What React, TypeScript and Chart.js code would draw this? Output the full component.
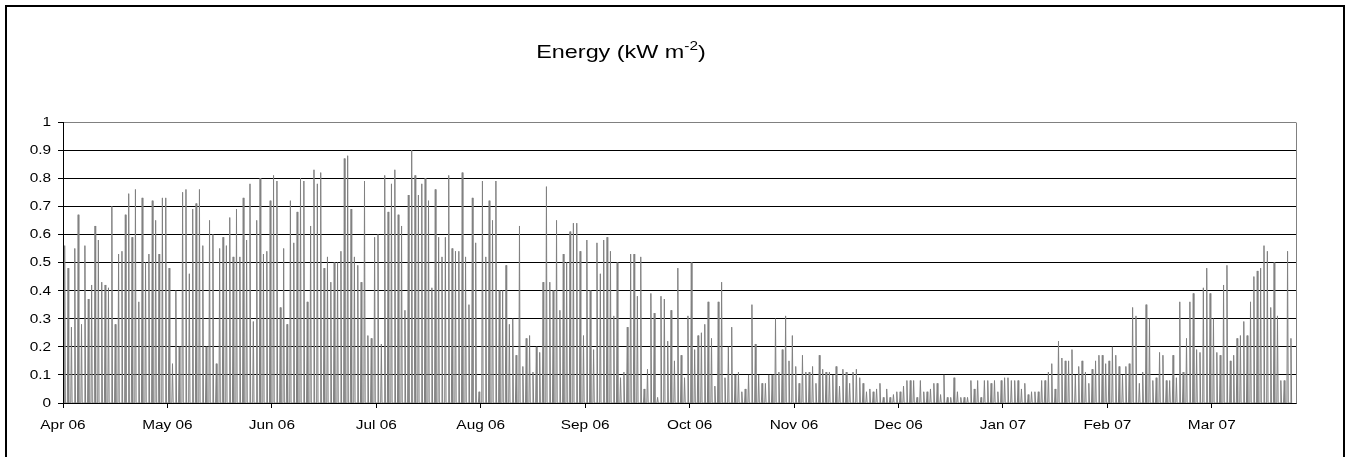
import React, { useEffect, useRef } from "react";
import { Chart, registerables } from "chart.js";

Chart.register(...registerables);

// Month tick labels (one tick every 31 days on the day axis)
const monthLabels = ["Apr 06", "May 06", "Jun 06", "Jul 06", "Aug 06", "Sep 06", "Oct 06", "Nov 06", "Dec 06", "Jan 07", "Feb 07", "Mar 07"];
const tickStepDays = 31;
const totalDays = 366;
const yTickValues = [0, 0.1, 0.2, 0.3, 0.4, 0.5, 0.6, 0.7, 0.8, 0.9, 1];

// Daily peak energy (kW m^-2), split in ~40-day blocks
const peaksAprMay = [0.56, 0.48, 0.27, 0.55, 0.67, 0.28, 0.56, 0.37, 0.42, 0.63, 0.58, 0.43, 0.42, 0.41, 0.70, 0.28, 0.53, 0.54, 0.67, 0.745, 0.59, 0.76, 0.36, 0.73, 0.50, 0.53, 0.72, 0.65, 0.53, 0.73, 0.73, 0.48, 0.14, 0.40, 0.20, 0.75, 0.76, 0.46, 0.69, 0.71, 0.76];
const peaksMayJun = [0.56, 0.20, 0.65, 0.60, 0.14, 0.55, 0.59, 0.56, 0.66, 0.52, 0.69, 0.52, 0.73, 0.58, 0.78, 0.29, 0.65, 0.80, 0.53, 0.54, 0.72, 0.81, 0.79, 0.34, 0.55, 0.28, 0.72, 0.57, 0.68, 0.80, 0.79, 0.36, 0.63, 0.83, 0.78, 0.82, 0.48, 0.52, 0.43, 0.50, 0.50];
const peaksJunJul = [0.54, 0.87, 0.88, 0.69, 0.52, 0.49, 0.43, 0.79, 0.24, 0.23, 0.59, 0.60, 0.21, 0.81, 0.68, 0.78, 0.83, 0.67, 0.63, 0.33, 0.74, 0.90, 0.81, 0.74, 0.78, 0.80, 0.72, 0.41, 0.76, 0.59, 0.52, 0.59, 0.81, 0.55, 0.54, 0.54, 0.82, 0.52, 0.35, 0.73];
const peaksAugSep = [0.57, 0.04, 0.79, 0.52, 0.72, 0.65, 0.79, 0.40, 0.40, 0.49, 0.28, 0.30, 0.17, 0.63, 0.13, 0.23, 0.24, 0.11, 0.20, 0.18, 0.43, 0.77, 0.43, 0.40, 0.65, 0.33, 0.53, 0.50, 0.61, 0.64, 0.64, 0.54, 0.24, 0.58, 0.40, 0.19, 0.57, 0.46, 0.58, 0.59];
const peaksSepOct = [0.54, 0.31, 0.50, 0.09, 0.11, 0.27, 0.53, 0.53, 0.38, 0.52, 0.05, 0.12, 0.39, 0.32, 0.02, 0.38, 0.37, 0.22, 0.33, 0.15, 0.48, 0.17, 0.09, 0.31, 0.50, 0.19, 0.24, 0.25, 0.28, 0.36, 0.23, 0.06, 0.36, 0.43, 0.09, 0.20, 0.27, 0.10, 0.11, 0.04, 0.05];
const peaksOctNov = [0.10, 0.35, 0.21, 0.10, 0.07, 0.07, 0.10, 0.10, 0.30, 0.11, 0.19, 0.31, 0.15, 0.24, 0.13, 0.07, 0.17, 0.11, 0.11, 0.13, 0.07, 0.17, 0.12, 0.11, 0.11, 0.10, 0.13, 0.06, 0.12, 0.11, 0.07, 0.11, 0.12, 0.09, 0.07, 0.04, 0.05, 0.04, 0.05, 0.07];
const peaksDecJan = [0.02, 0.05, 0.02, 0.03, 0.04, 0.04, 0.06, 0.08, 0.08, 0.08, 0.02, 0.08, 0.04, 0.04, 0.05, 0.07, 0.07, 0.03, 0.10, 0.02, 0.02, 0.09, 0.04, 0.02, 0.02, 0.02, 0.08, 0.05, 0.08, 0.02, 0.08, 0.08, 0.07, 0.08, 0.04, 0.08, 0.09, 0.09, 0.08, 0.08, 0.08];
const peaksJanFeb = [0.05, 0.07, 0.03, 0.04, 0.04, 0.04, 0.08, 0.08, 0.11, 0.14, 0.05, 0.22, 0.16, 0.15, 0.15, 0.19, 0.10, 0.13, 0.15, 0.11, 0.07, 0.12, 0.15, 0.17, 0.17, 0.14, 0.15, 0.20, 0.17, 0.13, 0.10, 0.13, 0.14, 0.34, 0.31, 0.07, 0.11, 0.35, 0.30, 0.08, 0.09];
const peaksFebMar = [0.18, 0.17, 0.08, 0.08, 0.17, 0.09, 0.36, 0.11, 0.23, 0.36, 0.39, 0.19, 0.18, 0.41, 0.48, 0.39, 0.30, 0.18, 0.17, 0.42, 0.49, 0.15, 0.17, 0.23, 0.24, 0.29, 0.24, 0.36, 0.45, 0.47, 0.48, 0.56, 0.54, 0.34, 0.50, 0.31, 0.08, 0.08, 0.54, 0.23];

const dailyPeaks = [
  ...peaksAprMay, ...peaksMayJun, ...peaksJunJul, ...peaksAugSep, ...peaksSepOct,
  ...peaksOctNov, ...peaksDecJan, ...peaksJanFeb, ...peaksFebMar,
];

// each day: night zero, daytime peak, night zero
const points = dailyPeaks.flatMap((p, d) => [
  { x: d + 0.3, y: 0 },
  { x: d + 0.5, y: p },
  { x: d + 0.7, y: 0 },
]);

const FONT = "'Liberation Sans', Arial, sans-serif";
const STRETCH = 1.23;

function drawStretched(ctx: CanvasRenderingContext2D, text: string, x: number, y: number, font: string, align: CanvasTextAlign, baseline: CanvasTextBaseline) {
  ctx.save();
  ctx.font = font;
  ctx.fillStyle = "#000";
  ctx.textAlign = align;
  ctx.textBaseline = baseline;
  ctx.translate(x, y);
  ctx.scale(STRETCH, 1);
  ctx.fillText(text, 0, 0);
  ctx.restore();
}

const decorPlugin = {
  id: "decor",
  afterDraw(chart: any) {
    const ctx: CanvasRenderingContext2D = chart.ctx;
    const xs = chart.scales.x;
    const ys = chart.scales.y;
    const area = chart.chartArea;
    // right plot border (gray)
    ctx.save();
    ctx.strokeStyle = "#808080";
    ctx.lineWidth = 1;
    ctx.beginPath();
    const rx = Math.round(area.right) + 0.5;
    ctx.moveTo(rx, Math.round(area.top) + 0.5);
    ctx.lineTo(rx, Math.round(area.bottom) + 0.5);
    ctx.stroke();
    ctx.restore();

    const tickFont = `12.5px ${FONT}`;
    // y labels
    yTickValues.forEach((v) => {
      const y = ys.getPixelForValue(v);
      drawStretched(ctx, String(v), area.left - 12, y + 0.5, tickFont, "right", "middle");
    });
    // x labels
    monthLabels.forEach((lab, i) => {
      const x = xs.getPixelForValue(i * tickStepDays);
      drawStretched(ctx, lab, x, area.bottom + 23, tickFont, "center", "middle");
    });

    // title with superscript
    const mainFont = `19px ${FONT}`;
    const supFont = `12.5px ${FONT}`;
    ctx.save();
    ctx.font = mainFont;
    const w1 = ctx.measureText("Energy (kW m").width * STRETCH;
    const w3 = ctx.measureText(")").width * STRETCH;
    ctx.font = supFont;
    const w2 = ctx.measureText("-2").width * STRETCH;
    ctx.restore();
    const cx = 621;
    const x0 = cx - (w1 + w2 + w3) / 2;
    const base = 58;
    drawStretched(ctx, "Energy (kW m", x0, base, mainFont, "left", "alphabetic");
    drawStretched(ctx, "-2", x0 + w1, base - 8, supFont, "left", "alphabetic");
    drawStretched(ctx, ")", x0 + w1 + w2, base, mainFont, "left", "alphabetic");
  },
};

export default function App() {
  const canvasRef = useRef<HTMLCanvasElement | null>(null);

  useEffect(() => {
    document.body.style.margin = "0";
    const canvas = canvasRef.current;
    if (!canvas) return;
    const chart = new Chart(canvas, {
      type: "line",
      data: {
        datasets: [
          {
            data: points,
            borderColor: "#808080",
            borderWidth: 1,
            pointRadius: 0,
            tension: 0,
            fill: false,
          },
        ],
      },
      options: {
        animation: false,
        responsive: false,
        devicePixelRatio: 1,
        layout: { padding: { top: 122, right: 50, left: 0, bottom: 0 } },
        plugins: { legend: { display: false }, tooltip: { enabled: false }, title: { display: false } },
        scales: {
          x: {
            type: "linear",
            min: 0,
            max: totalDays,
            afterBuildTicks: (s: any) => {
              s.ticks = monthLabels.map((_, i) => ({ value: i * tickStepDays }));
            },
            afterFit: (s: any) => {
              s.height = 54;
            },
            ticks: { display: false },
            grid: { drawOnChartArea: false, drawTicks: true, tickLength: 5, color: "#000" },
            border: { display: true, color: "#000", width: 1 },
          },
          y: {
            min: 0,
            max: 1,
            afterBuildTicks: (s: any) => {
              s.ticks = yTickValues.map((v) => ({ value: v }));
            },
            afterFit: (s: any) => {
              s.width = 63;
            },
            ticks: { display: false },
            grid: {
              color: (c: any) => (c.tick && Math.abs(c.tick.value - 1) < 1e-6 ? "#808080" : "#000"),
              tickColor: "#000",
              drawTicks: true,
              tickLength: 5,
              lineWidth: 1,
            },
            border: { display: true, color: "#000", width: 1 },
          },
        },
      },
      plugins: [decorPlugin],
    } as any);
    return () => chart.destroy();
  }, []);

  return (
    <div style={{ position: "relative", width: 1346, height: 457, overflow: "hidden", background: "#fff" }}>
      <canvas ref={canvasRef} width={1346} height={457} style={{ position: "absolute", left: 0, top: 0 }} />
      <div
        style={{
          position: "absolute",
          left: 5,
          top: 5,
          width: 1340,
          height: 480,
          boxSizing: "border-box",
          border: "2px solid #000",
          pointerEvents: "none",
        }}
      />
    </div>
  );
}
